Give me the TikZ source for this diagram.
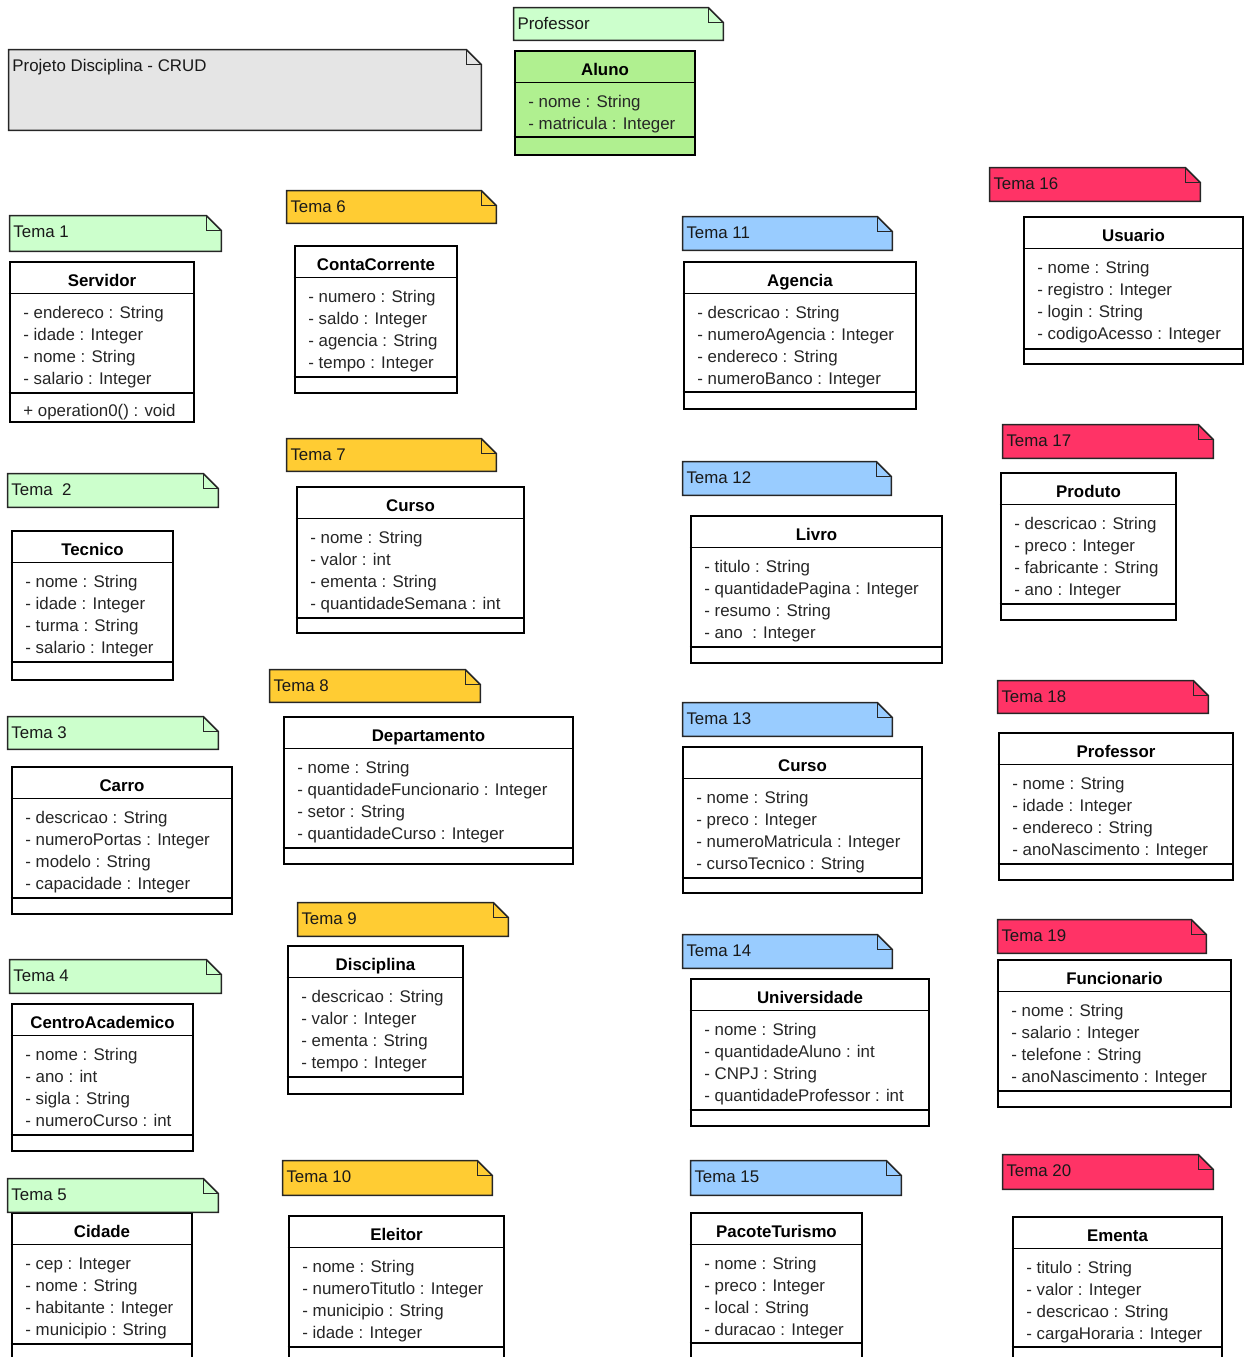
\documentclass[tikz,border=0pt]{standalone}
\usepackage{tikz}
\usepackage{fontspec}
\setmainfont{Liberation Sans}
\usetikzlibrary{fit, calc}
\definecolor{note-green}{RGB}{204,255,204}
\definecolor{note-gray}{RGB}{229,229,229}
\definecolor{note-orange}{RGB}{255,204,51}
\definecolor{note-blue}{RGB}{153,204,255}
\definecolor{note-red}{RGB}{255,51,102}
\definecolor{class-green}{RGB}{176,240,144}

\tikzset{
  classbox/.style={draw=black, line width=1.6pt, inner sep=0pt},
  classline/.style={draw=black, line width=0.7pt},
  classtitle/.style={font=\fontsize{9.6}{12}\selectfont\bfseries, inner sep=0pt},
  classattr/.style={font=\fontsize{9.6}{12.52}\selectfont, text=black!85, align=left, inner sep=0pt},
  notebox/.style={inner sep=0pt},
  notepen/.style={draw=black!85, line width=0.9pt},
  notetext/.style={font=\fontsize{9.6}{12}\selectfont, text=black!90, inner sep=0pt}
}

% class: [fill]{name}{top left}{bottom right}{y of last separator}{title}{attributes}
\newcommand{\umlclass}[7][white]{%
  \node[classbox, fill=#1, fit={(#3) (#4)}] (#2) {};
  \draw[classline] ($(#2.north west)+(0,33)$) -- ($(#2.north east)+(0,33)$);
  \draw[classline] (#2.west |- 0,#5) -- (#2.east |- 0,#5);
  \node[classtitle, anchor=base] (#2-name) at ($(#2.north)+(0,25.5)$) {#6};
  \node[classattr, anchor=north west] (#2-attr) at ($(#2.north west)+(14.5,45.5)$) {#7};
}
% note with folded corner: [fill]{name}{top left}{bottom right}{text}
\newcommand{\umlnote}[5][note-green]{%
  \node[notebox, fit={(#3) (#4)}] (#2) {};
  \filldraw[notepen, fill=#1] (#2.north west) -- ($(#2.north east)+(-15,0)$) -- ($(#2.north east)+(0,15)$)
    -- (#2.south east) -- (#2.south west) -- cycle;
  \draw[notepen] ($(#2.north east)+(-15,0)$) |- ($(#2.north east)+(0,15)$);
  \node[notetext, anchor=base west] (#2-text) at ($(#2.north west)+(3.5,21.5)$) {#5};
}

\begin{document}
\begin{tikzpicture}[x=0.02cm, y=-0.02cm]
  \useasboundingbox (0,0) rectangle (1248,1357);
  \clip (0,0) rectangle (1248,1357);

  % header
  \umlnote[note-gray]{proj}{9,50}{481,130}{Projeto Disciplina - CRUD}
  \umlnote{prof}{514,8}{723,40}{Professor}
  \umlclass[class-green]{alu}{515,51}{695,155}{137}{Aluno}{- nome : String\\- matricula : Integer}

  % column 1
  \umlnote{t1}{10,216}{221,251}{Tema 1}
  \umlclass{srv}{10,262}{194,422}{393}{Servidor}{- endereco : String\\- idade : Integer\\- nome : String\\- salario : Integer}
  \node[classattr, anchor=base west] (srv-op) at ($(srv.north west)+(14.5,156)$) {+ operation0() : void};
  \umlnote{t2}{8,474}{218,507}{Tema\ \ 2}
  \umlclass{tec}{12,531}{173,680}{662}{Tecnico}{- nome : String\\- idade : Integer\\- turma : String\\- salario : Integer}
  \umlnote{t3}{8,717}{218,749}{Tema 3}
  \umlclass{car}{12,767}{232,914}{898}{Carro}{- descricao : String\\- numeroPortas : Integer\\- modelo : String\\- capacidade : Integer}
  \umlnote{t4}{10,960}{221,993}{Tema 4}
  \umlclass{cac}{12,1004}{193,1151}{1135}{CentroAcademico}{- nome : String\\- ano : int\\- sigla : String\\- numeroCurso : int}
  \umlclass{cid}{12,1213}{192,1362}{1344}{Cidade}{- cep : Integer\\- nome : String\\- habitante : Integer\\- municipio : String}
  \umlnote{t5}{8,1179}{218,1212}{Tema 5}

  % column 2
  \umlnote[note-orange]{t6}{287,191}{496,223}{Tema 6}
  \umlclass{cco}{295,246}{457,393}{377}{ContaCorrente}{- numero : String\\- saldo : Integer\\- agencia : String\\- tempo : Integer}
  \umlnote[note-orange]{t7}{287,439}{496,471}{Tema 7}
  \umlclass{cur}{297,487}{524,633}{618}{Curso}{- nome : String\\- valor : int\\- ementa : String\\- quantidadeSemana : int}
  \umlnote[note-orange]{t8}{270,670}{480,702}{Tema 8}
  \umlclass{dep}{284,717}{573,864}{848}{Departamento}{- nome : String\\- quantidadeFuncionario : Integer\\- setor : String\\- quantidadeCurso : Integer}
  \umlnote[note-orange]{t9}{298,903}{508,936}{Tema 9}
  \umlclass{dis}{288,946}{463,1094}{1077}{Disciplina}{- descricao : String\\- valor : Integer\\- ementa : String\\- tempo : Integer}
  \umlnote[note-orange]{t10}{283,1161}{492,1195}{Tema 10}
  \umlclass{ele}{289,1216}{504,1365}{1347}{Eleitor}{- nome : String\\- numeroTitutlo : Integer\\- municipio : String\\- idade : Integer}

  % column 3
  \umlnote[note-blue]{t11}{683,217}{892,250}{Tema 11}
  \umlclass{age}{684,262}{916,409}{392}{Agencia}{- descricao : String\\- numeroAgencia : Integer\\- endereco : String\\- numeroBanco : Integer}
  \umlnote[note-blue]{t12}{683,462}{891,495}{Tema 12}
  \umlclass{liv}{691,516}{942,663}{647}{Livro}{- titulo : String\\- quantidadePagina : Integer\\- resumo : String\\- ano \ : Integer}
  \umlnote[note-blue]{t13}{683,703}{892,736}{Tema 13}
  \umlclass{ctc}{683,747}{922,893}{878}{Curso}{- nome : String\\- preco : Integer\\- numeroMatricula : Integer\\- cursoTecnico : String}
  \umlnote[note-blue]{t14}{683,935}{892,968}{Tema 14}
  \umlclass{uni}{691,979}{929,1126}{1110}{Universidade}{- nome : String\\- quantidadeAluno : int\\- CNPJ : String\\- quantidadeProfessor : int}
  \umlnote[note-blue]{t15}{691,1161}{901,1195}{Tema 15}
  \umlclass{pac}{691,1213}{862,1362}{1343}{PacoteTurismo}{- nome : String\\- preco : Integer\\- local : String\\- duracao : Integer}

  % column 4
  \umlnote[note-red]{t16}{990,168}{1200,201}{Tema 16}
  \umlclass{usu}{1024,217}{1243,364}{349}{Usuario}{- nome : String\\- registro : Integer\\- login : String\\- codigoAcesso : Integer}
  \umlnote[note-red]{t17}{1003,425}{1213,458}{Tema 17}
  \umlclass{pro}{1001,473}{1176,620}{604}{Produto}{- descricao : String\\- preco : Integer\\- fabricante : String\\- ano : Integer}
  \umlnote[note-red]{t18}{998,681}{1208,713}{Tema 18}
  \umlclass{prf}{999,733}{1233,880}{864}{Professor}{- nome : String\\- idade : Integer\\- endereco : String\\- anoNascimento : Integer}
  \umlnote[note-red]{t19}{998,920}{1206,953}{Tema 19}
  \umlclass{fun}{998,960}{1231,1107}{1091}{Funcionario}{- nome : String\\- salario : Integer\\- telefone : String\\- anoNascimento : Integer}
  \umlnote[note-red]{t20}{1003,1155}{1213,1189}{Tema 20}
  \umlclass{eme}{1013,1217}{1222,1366}{1347}{Ementa}{- titulo : String\\- valor : Integer\\- descricao : String\\- cargaHoraria : Integer}
\end{tikzpicture}
\end{document}
